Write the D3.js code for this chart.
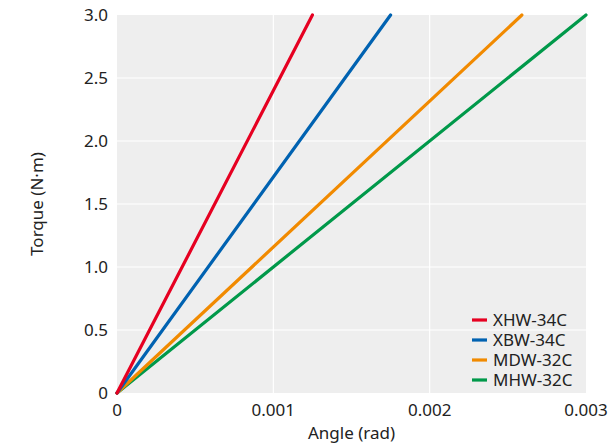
<!DOCTYPE html>
<html><head><meta charset="utf-8">
<script src="https://cdn.jsdelivr.net/npm/d3@7"></script>
<style>
body{margin:0;background:#fff;}
text{font-family:"Noto Sans","Open Sans",sans-serif;fill:#222;}
</style></head>
<body><svg id="c" width="609" height="446"></svg>
<script>
const seriesNames = ["XHW-34C","XBW-34C","MDW-32C","MHW-32C"];
const seriesColors = ["#e60021","#0062b1","#f18a00","#00994a"];
// torque-angle lines from origin reach 3.0 N·m at these angles
const seriesAngleAt3 = [0.00125, 0.00175, 0.00259, 0.003];
const xTicks = [0, 0.001, 0.002, 0.003];
const xTickLabels = ["0","0.001","0.002","0.003"];
const yTicks = [0,0.5,1.0,1.5,2.0,2.5,3.0];
const yTickLabels = ["0","0.5","1.0","1.5","2.0","2.5","3.0"];

const svg = d3.select("#c");
const L=117,R=586,T=15,B=393;
const x = d3.scaleLinear().domain([0,0.003]).range([L,R]);
const y = d3.scaleLinear().domain([0,3]).range([B,T]);
const FS = 17;

svg.append("rect").attr("x",L).attr("y",T).attr("width",R-L).attr("height",B-T).attr("fill","#eeeeee");
svg.selectAll(".gx").data(xTicks.slice(1,-1)).enter().append("line")
  .attr("x1",d=>x(d)).attr("x2",d=>x(d)).attr("y1",T).attr("y2",B).attr("stroke","#fff").attr("stroke-width",1.2);
svg.selectAll(".gy").data(yTicks.slice(1,-1)).enter().append("line")
  .attr("y1",d=>y(d)).attr("y2",d=>y(d)).attr("x1",L).attr("x2",R).attr("stroke","#fff").attr("stroke-width",1.2);

svg.selectAll(".yt").data(yTicks).enter().append("text")
  .attr("x",L-9).attr("y",d=>y(d)+6).attr("text-anchor","end").attr("font-size",FS)
  .text((d,i)=>yTickLabels[i]);
svg.selectAll(".xt").data(xTicks).enter().append("text")
  .attr("x",d=>x(d)).attr("y",B+23).attr("text-anchor","middle").attr("font-size",FS)
  .text((d,i)=>xTickLabels[i]);

svg.append("text").attr("x",x(0.0015)).attr("y",439).attr("text-anchor","middle").attr("font-size",FS).text("Angle (rad)");
svg.append("text").attr("transform",`translate(43,${(T+B)/2}) rotate(-90)`).attr("text-anchor","middle").attr("font-size",FS).text("Torque (N·m)");

const line = d3.line().x(d=>x(d[0])).y(d=>y(d[1]));
[3,2,1,0].forEach(i=>{
  svg.append("path").datum([[0,0],[seriesAngleAt3[i],3]]).attr("d",line)
    .attr("fill","none").attr("stroke",seriesColors[i]).attr("stroke-width",3.2).attr("stroke-linecap","round");
});

const lg = svg.append("g");
seriesNames.forEach((n,i)=>{
  const yy = 320 + i*20;
  lg.append("line").attr("x1",472).attr("x2",487).attr("y1",yy).attr("y2",yy).attr("stroke",seriesColors[i]).attr("stroke-width",3.2);
  lg.append("text").attr("x",493).attr("y",yy+6).attr("font-size",FS).text(n);
});
</script></body></html>
